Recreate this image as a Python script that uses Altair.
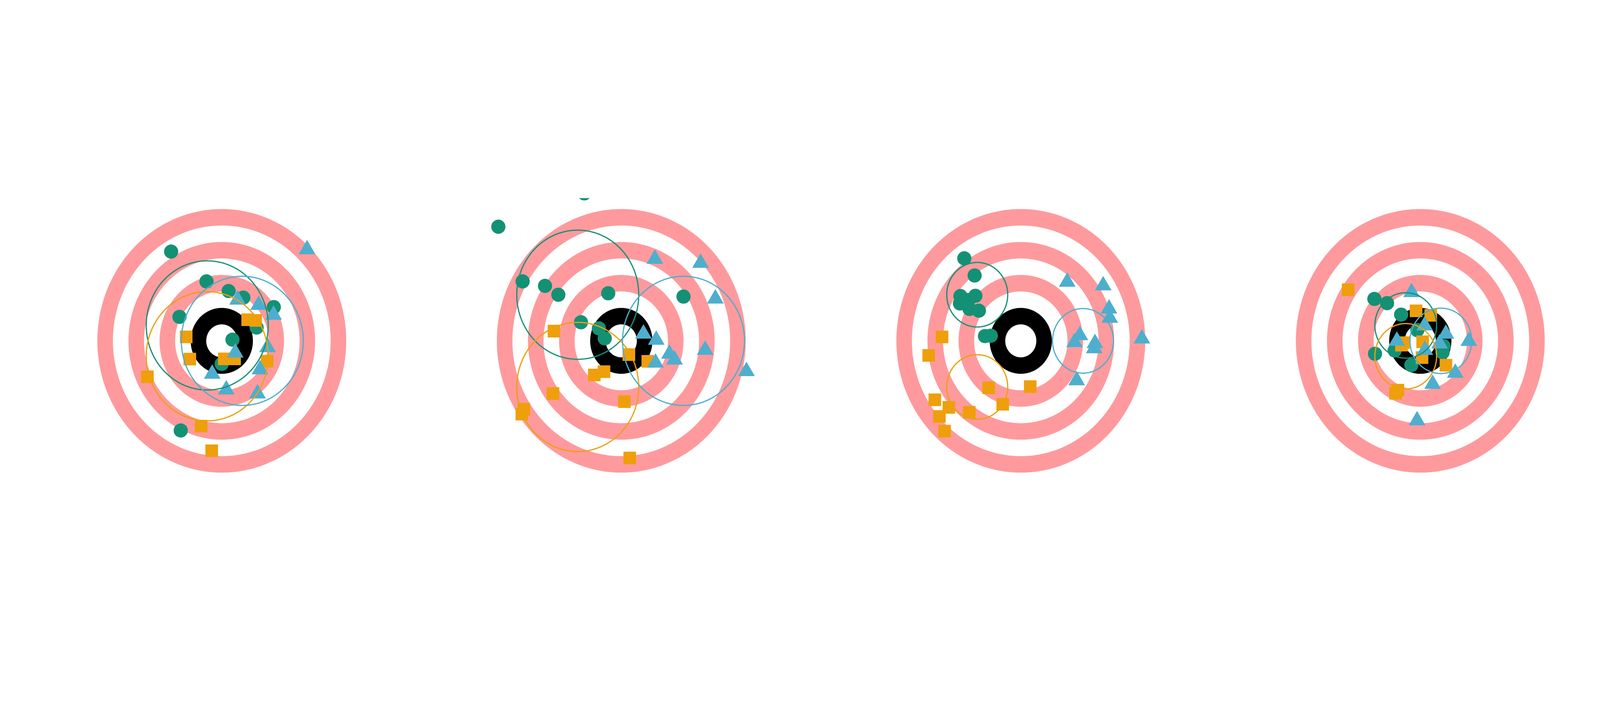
import altair as alt
import pandas as pd

# target rings (outer radius of each filled disc, drawn largest first)
RING_RADII = [1.0, 0.875, 0.75, 0.625, 0.5, 0.375, 0.25, 0.125]
RING_COLORS = ["#FE9A9D", "white", "#FE9A9D", "white", "#FE9A9D", "white", "black", "white"]

GREEN = "#149175"
ORANGE = "#EE9F0B"
BLUE = "#4EAECE"

# shots per panel: (x, y)
P1_GREEN = [(-0.407, 0.677), (-0.123, 0.451), (0.055, 0.378), (0.173, 0.328), (0.418, 0.256),
            (-0.340, 0.182), (0.280, 0.101), (0.086, 0.009), (-0.001, -0.175), (-0.330, -0.680)]
P1_ORANGE = [(0.208, 0.160), (0.272, 0.155), (-0.286, 0.030), (-0.257, -0.138), (0.020, -0.137),
             (0.103, -0.137), (0.364, -0.154), (-0.598, -0.272), (-0.166, -0.647), (-0.081, -0.834)]
P1_BLUE = [(0.685, 0.712), (0.127, 0.330), (0.296, 0.290), (0.416, 0.215), (0.368, -0.031),
           (0.108, -0.072), (0.307, -0.199), (-0.077, -0.233), (0.036, -0.352), (0.287, -0.382)]

P2_GREEN = [(-0.297, 1.119), (-0.988, 0.866), (-0.793, 0.451), (-0.613, 0.417), (-0.506, 0.350),
            (-0.105, 0.361), (0.500, 0.336), (-0.324, 0.141), (-0.180, 0.095), (-0.133, 0.019)]
P2_ORANGE = [(-0.541, 0.074), (0.061, -0.104), (0.213, -0.155), (-0.217, -0.259), (-0.139, -0.234),
             (-0.549, -0.400), (0.025, -0.461), (-0.783, -0.519), (-0.799, -0.556), (0.068, -0.889)]
P2_BLUE = [(0.270, 0.639), (0.637, 0.609), (0.756, 0.338), (0.178, 0.072), (0.281, 0.025),
           (0.387, -0.081), (0.428, -0.125), (0.275, -0.148), (0.674, -0.051), (1.006, -0.213)]

P3_GREEN = [(-0.454, 0.626), (-0.371, 0.496), (-0.485, 0.340), (-0.365, 0.342), (-0.489, 0.284),
            (-0.420, 0.310), (-0.412, 0.242), (-0.337, 0.229), (-0.288, 0.036), (-0.241, 0.039)]
P3_ORANGE = [(-0.633, 0.030), (-0.740, -0.111), (-0.258, -0.356), (0.076, -0.347), (-0.691, -0.447),
             (-0.578, -0.505), (-0.145, -0.481), (-0.414, -0.542), (-0.654, -0.574), (-0.613, -0.685)]
P3_BLUE = [(0.373, 0.465), (0.662, 0.438), (0.709, 0.262), (0.715, 0.192), (0.475, 0.060),
           (0.432, 0.007), (0.596, 0.000), (0.590, -0.039), (0.973, 0.035), (0.449, -0.282)]

P4_GREEN = [(-0.369, 0.318), (-0.267, 0.286), (-0.154, 0.199), (-0.024, 0.081), (-0.364, -0.098),
            (-0.206, -0.073), (-0.072, -0.184), (0.187, -0.040), (0.179, -0.088)]
P4_ORANGE = [(-0.034, 0.228), (0.084, 0.194), (-0.135, -0.014), (-0.151, -0.032), (0.019, -0.007),
             (0.014, -0.127), (0.206, -0.185), (-0.180, -0.374), (-0.199, -0.398), (-0.580, 0.388)]
P4_BLUE = [(-0.070, 0.387), (0.035, 0.134), (0.206, 0.071), (0.155, -0.003), (0.390, 0.016),
           (-0.188, 0.018), (0.037, -0.052), (0.281, -0.225), (0.099, -0.310), (-0.026, -0.586)]

# spread circles: centre x, centre y, radius (green, orange, blue)
P1_SPREAD = [(-0.117, 0.117, 0.49), (-0.117, -0.117, 0.49), (0.165, 0.0, 0.49)]
P2_SPREAD = [(-0.35, 0.35, 0.49), (-0.35, -0.35, 0.49), (0.5, 0.0, 0.49)]
P3_SPREAD = [(-0.35, 0.35, 0.245), (-0.35, -0.35, 0.245), (0.5, 0.0, 0.245)]
P4_SPREAD = [(-0.117, 0.117, 0.248), (-0.117, -0.117, 0.248), (0.165, 0.0, 0.248)]

PANELS = [
    (P1_GREEN, P1_ORANGE, P1_BLUE, P1_SPREAD),
    (P2_GREEN, P2_ORANGE, P2_BLUE, P2_SPREAD),
    (P3_GREEN, P3_ORANGE, P3_BLUE, P3_SPREAD),
    (P4_GREEN, P4_ORANGE, P4_BLUE, P4_SPREAD),
]

xs = alt.Scale(domain=[-1.083, 1.083], nice=False, zero=False)
ys = alt.Scale(domain=[-1.083, 1.083], nice=False, zero=False)


def disc(r, color):
    return alt.Chart(alt.sequence(0, 181, 1, as_="deg")).transform_calculate(
        x=f"{r}*cos(datum.deg*PI/180)",
        y=f"{r}*sin(datum.deg*PI/180)",
        y2=f"-{r}*sin(datum.deg*PI/180)",
    ).mark_area(color=color, clip=True).encode(
        x=alt.X("x:Q", scale=xs, axis=None),
        y=alt.Y("y:Q", scale=ys, axis=None),
        y2="y2:Q",
    )


def outline(cx, cy, r, color):
    return alt.Chart(alt.sequence(0, 361, 1, as_="deg")).transform_calculate(
        x=f"{cx}+{r}*cos(datum.deg*PI/180)",
        y=f"{cy}+{r}*sin(datum.deg*PI/180)",
    ).mark_line(color=color, strokeWidth=4.5, clip=True).encode(
        x=alt.X("x:Q", scale=xs, axis=None),
        y=alt.Y("y:Q", scale=ys, axis=None),
        order="deg:Q",
    )


def shots(pts, shape, size, color):
    df = pd.DataFrame(pts, columns=["x", "y"])
    return alt.Chart(df).mark_point(
        shape=shape, size=size, color=color, filled=True, opacity=1, strokeWidth=0, clip=True
    ).encode(
        x=alt.X("x:Q", scale=xs, axis=None),
        y=alt.Y("y:Q", scale=ys, axis=None),
    )


panels = []
for green, orange, blue, spread in PANELS:
    layers = [disc(r, c) for r, c in zip(RING_RADII, RING_COLORS)]
    layers += [
        shots(green, "circle", 2840, GREEN),
        shots(orange, "square", 2240, ORANGE),
        shots(blue, "triangle-up", 3930, BLUE),
    ]
    for (cx, cy, r), col in zip(spread, [GREEN, ORANGE, BLUE]):
        layers.append(outline(cx, cy, r, col))
    panels.append(alt.layer(*layers).properties(width=1012, height=1072))

# whole page: 8 + 315 + 4*1012 + 3*488 + 157 + 8 = 6000 wide, 8 + 316 + 1072 + 396 + 8 = 1800 tall
chart = alt.hconcat(*panels, spacing=488).properties(
    padding={"left": 315, "top": 316, "right": 157, "bottom": 396}
).configure_view(stroke=None)

chart.save("out.html", embed_options={"renderer": "svg", "actions": False})
